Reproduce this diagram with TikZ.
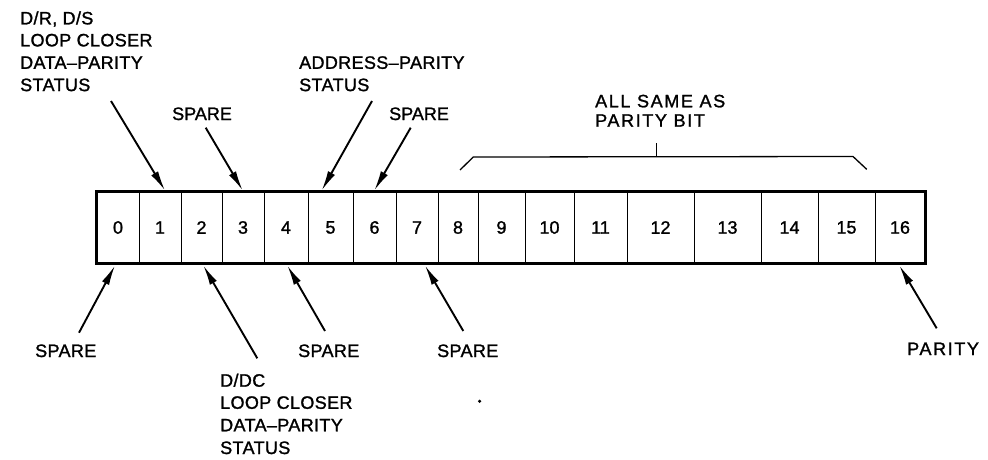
\documentclass[tikz,border=0pt]{standalone}
\usepackage{fontspec}
\setmainfont{Liberation Sans}
\newfontfamily\lblA[FakeBold=1.3]{Liberation Sans}
\newfontfamily\lblB[LetterSpace=2,FakeBold=1.3]{Liberation Sans}
\newfontfamily\lblC[LetterSpace=9,FakeBold=1.3]{Liberation Sans}
\usetikzlibrary{arrows.meta}
\begin{document}
\begin{tikzpicture}[x=1pt,y=-1pt,
  lbl/.style={anchor=base west, inner sep=0pt, font=\lblB\fontsize{18}{21}\selectfont},
  lblnarrow/.style={lbl, font=\lblA\fontsize{18}{21}\selectfont},
  lblwide/.style={lbl, font=\lblC\fontsize{18}{21}\selectfont},
  cell/.style={draw, line width=1pt, inner sep=0pt, minimum height=71pt,
    font=\lblA\fontsize{18}{21}\selectfont},
  ptr/.style={line width=1.9pt, -{Latex[length=20pt,width=8pt]}},
  brace/.style={line width=1.3pt, line join=round}]
\useasboundingbox (0,0) rectangle (988,460);

% register cells
\foreach \l/\r/\n in {97/139/0,139/181/1,181/222/2,222/264/3,264/308/4,308/353/5,
  353/396/6,396/438/7,438/478/8,478/525/9,525/574/10,574/627/11,627/694/12,
  694/761/13,761/818/14,818/875/15,875/925/16}{
  \node[cell, minimum width={(\r-\l)*1pt}] (c\n) at ({(\l+\r)/2},227.5) {\n};
}
\draw[line width=3.2pt, line join=miter] (c0.north west) rectangle (c16.south east);

% top-left label
\node[lbl] (tl1) at (20,24.4) {D/R, D/S};
\node[lbl] (tl2) at (20,46.4) {LOOP CLOSER};
\node[lbl] (tl3) at (20,68.8) {DATA–PARITY};
\node[lbl] (tl4) at (20,91.1) {STATUS};
% address parity
\node[lbl] (ap1) at (299,68.8) {ADDRESS–PARITY};
\node[lbl] (ap2) at (299,91.1) {STATUS};
% top spares
\node[lblnarrow] (ts1) at (172,120) {SPARE};
\node[lblnarrow] (ts2) at (389,120) {SPARE};
% brace label
\node[lblwide] (al1) at (595,107.3) {ALL SAME AS};
\node[lblwide] (al2) at (595,126.7) {PARITY BIT};
% bottom labels
\node[lbl] (bs1) at (35,357) {SPARE};
\node[lbl] (bs2) at (298,357) {SPARE};
\node[lbl] (bs3) at (437,357) {SPARE};
\node[lblwide] (bp) at (907,355) {PARITY};
\node[lbl] (dc1) at (220,386.7) {D/DC};
\node[lbl] (dc2) at (220,408.8) {LOOP CLOSER};
\node[lbl] (dc3) at (220,431.3) {DATA–PARITY};
\node[lbl] (dc4) at (220,454) {STATUS};

% arrow coordinates
\coordinate (a1s) at (111,101);   \coordinate (a1e) at (165,190.5);
\coordinate (a2s) at (205.7,127.7); \coordinate (a2e) at (242.7,190.5);
\coordinate (a3s) at (372,101);   \coordinate (a3e) at (321.7,190.5);
\coordinate (a4s) at (410.7,127.7); \coordinate (a4e) at (374.3,190.5);
\coordinate (b1s) at (79,332.7);  \coordinate (b1e) at (115,265.5);
\coordinate (b2s) at (257.3,358.3); \coordinate (b2e) at (203.3,265.5);
\coordinate (b3s) at (325,331);   \coordinate (b3e) at (287.3,265.5);
\coordinate (b4s) at (463.3,331); \coordinate (b4e) at (425,265.5);
\coordinate (b5s) at (936.7,328.3); \coordinate (b5e) at (899.3,265.5);

\foreach \a in {a1,a2,a3,a4,b1,b2,b3,b4,b5}{
  \draw[ptr] (\a s) -- (\a e);
}

% brace
\coordinate (br1) at (460,170);
\coordinate (br2) at (473.3,157);
\coordinate (br3) at (853,156.5);
\coordinate (br4) at (866.7,169.3);
\coordinate (brm) at (656.7,156.8);
\coordinate (brt) at (656.7,143.3);
\draw[brace] (br1) -- (br2) -- (br3) -- (br4);
\draw[brace] (brm) -- (brt);

% stray dot
\fill (479.6,401.3) circle (1.7);
\end{tikzpicture}
\end{document}
